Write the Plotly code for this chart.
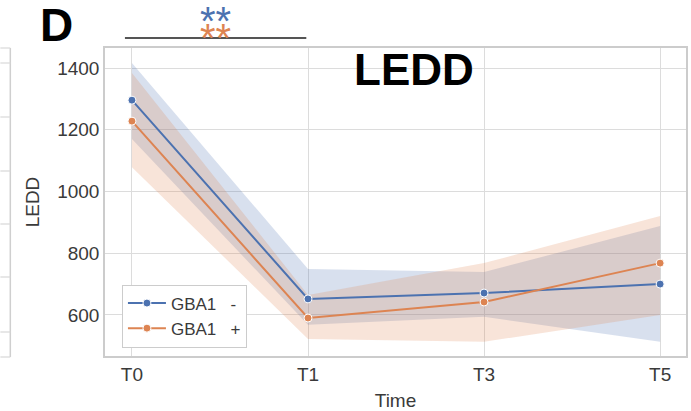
import plotly.graph_objects as go

# Visits and mean LEDD per group, with 95% CI bounds
times = ["T0", "T1", "T3", "T5"]
gba_neg = [1296, 652, 671, 700]
gba_neg_lo = [1170, 568, 594, 513]
gba_neg_hi = [1416, 749, 739, 888]
gba_pos = [1228, 590, 642, 768]
gba_pos_lo = [1079, 522, 513, 600]
gba_pos_hi = [1384, 665, 768, 921]
y_ticks = [600, 800, 1000, 1200, 1400]
series_names = ["GBA1\u00a0\u00a0\u00a0-", "GBA1\u00a0\u00a0\u00a0+"]

BLUE = "#4C72B0"
ORANGE = "#DD8452"
FONT = "Liberation Sans"
TXT = "#3a3a3a"

xs = list(range(len(times)))
fig = go.Figure()

def band(lo, hi, rgba):
    fig.add_trace(go.Scatter(
        x=xs + xs[::-1], y=hi + lo[::-1], fill="toself", fillcolor=rgba,
        line=dict(width=0), mode="lines", hoverinfo="skip", showlegend=False))

band(gba_neg_lo, gba_neg_hi, "rgba(76,114,176,0.22)")
band(gba_pos_lo, gba_pos_hi, "rgba(221,132,82,0.22)")

for name, vals, col in [(series_names[0], gba_neg, BLUE), (series_names[1], gba_pos, ORANGE)]:
    fig.add_trace(go.Scatter(
        x=xs, y=vals, name=name, mode="lines+markers",
        line=dict(color=col, width=2),
        marker=dict(color=col, size=8, line=dict(color="white", width=1))))

# pixel -> paper helpers for decorations outside the axes
def px_x(p):
    return (p - 105) / 583.0

def px_y(p):
    return (356 - p) / 308.0

# partial frame of the neighbouring panel on the left edge
shapes = [dict(type="line", xref="paper", yref="paper",
               x0=px_x(10), x1=px_x(10), y0=px_y(48), y1=px_y(357),
               line=dict(color="#cfcfcf", width=1.5))]
for yy in [48, 63, 117, 171, 224, 277, 332, 357]:
    shapes.append(dict(type="line", xref="paper", yref="paper",
                       x0=px_x(0), x1=px_x(10), y0=px_y(yy), y1=px_y(yy),
                       line=dict(color="#d8d8d8", width=1.2)))
# significance bar between T0 and T1
shapes.append(dict(type="line", xref="paper", yref="paper",
                   x0=px_x(125), x1=px_x(307), y0=px_y(38), y1=px_y(38),
                   line=dict(color="#555555", width=2)))

def note(text, x, y, size, color, yanchor="middle"):
    return dict(text=text, xref="paper", yref="paper", x=px_x(x), y=px_y(y),
                xanchor="center", yanchor=yanchor, showarrow=False,
                font=dict(family=FONT, size=size, color=color))

# two rows of significance stars in one block, tight line spacing
stars = (f'<span style="font-size:40px;color:{BLUE}">**</span><br>'
         f'<span style="font-size:40px;color:{ORANGE}">**</span>')

annotations = [
    note("<b>LEDD</b>", 415, 70, 44, "black"),
    note("<b>D</b>", 56, 25, 46, "black"),
    note(stars, 216, -3, 13, BLUE, yanchor="top"),
]

fig.update_layout(
    width=691, height=411,
    margin=dict(l=105, r=3, t=48, b=55),
    paper_bgcolor="white", plot_bgcolor="white",
    font=dict(family=FONT, color=TXT),
    shapes=shapes, annotations=annotations,
    legend=dict(x=px_x(122), y=px_y(316), xanchor="left", yanchor="middle",
                bgcolor="white", bordercolor="#cccccc", borderwidth=1,
                font=dict(family=FONT, size=17, color=TXT),
                tracegroupgap=0, itemwidth=38),
    xaxis=dict(range=[-0.153, 3.147], tickmode="array", tickvals=xs, ticktext=times,
               showgrid=True, gridcolor="#dcdcdc", gridwidth=1.2,
               zeroline=False, showline=True, mirror=True,
               linecolor="#cccccc", linewidth=1.5,
               tickfont=dict(size=19, color=TXT),
               title=dict(text="Time", font=dict(size=19, color=TXT), standoff=10)),
    yaxis=dict(range=[467, 1465], tickvals=y_ticks,
               showgrid=True, gridcolor="#dcdcdc", gridwidth=1.2,
               zeroline=False, showline=True, mirror=True,
               linecolor="#cccccc", linewidth=1.5,
               tickfont=dict(size=19, color=TXT), ticklen=0,
               title=dict(text="LEDD", font=dict(size=19, color=TXT), standoff=13)),
)

fig.write_html("out.html")
